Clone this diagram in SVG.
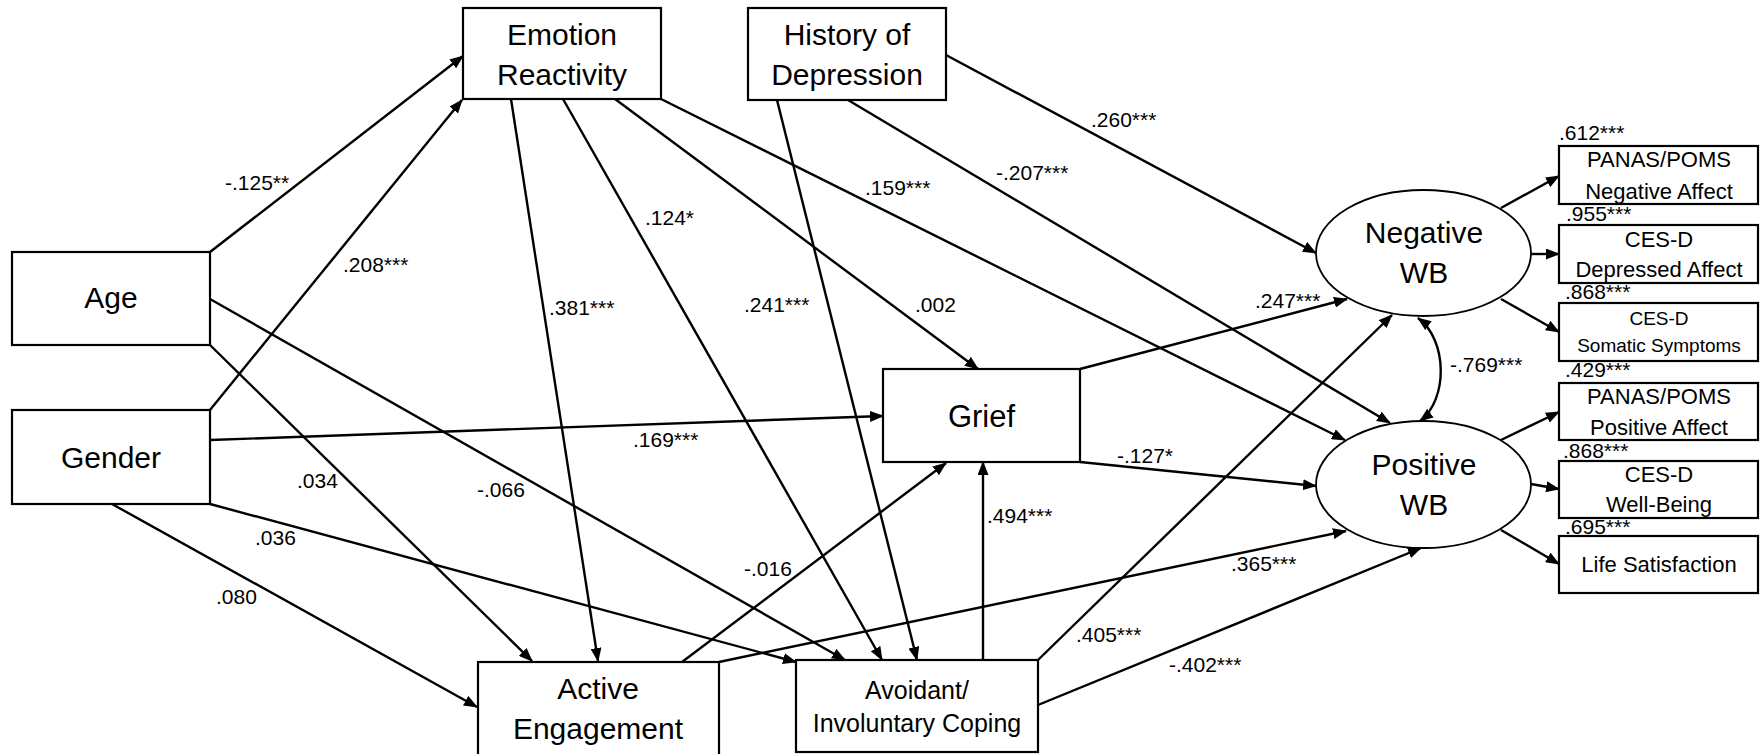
<svg xmlns="http://www.w3.org/2000/svg" width="1760" height="754" viewBox="0 0 1760 754">
<defs>
<style>
.box{fill:#fff;stroke:#000;stroke-width:2.2}
.ell{fill:#fff;stroke:#000;stroke-width:1.8}
.t{font-family:"Liberation Sans",Arial,sans-serif;font-size:30px;fill:#000;text-anchor:middle}
.ti{font-family:"Liberation Sans",Arial,sans-serif;font-size:22px;fill:#000;text-anchor:middle}
.ts{font-family:"Liberation Sans",Arial,sans-serif;font-size:19px;fill:#000;text-anchor:middle}
.lb{font-family:"Liberation Sans",Arial,sans-serif;font-size:21px;fill:#000}
.c{fill:none;stroke:#000;stroke-width:2.4;marker-end:url(#ah)}
</style>
<marker id="ah" viewBox="0 0 14 11" refX="13" refY="5.5" markerWidth="14" markerHeight="11" markerUnits="userSpaceOnUse" orient="auto-start-reverse">
<path d="M0,0 L14,5.5 L0,11 z" fill="#000"/>
</marker>
</defs>
<rect width="1760" height="754" fill="#fff"/>

<g id="connectors">
<line class="c" x1="210" y1="252" x2="463" y2="56"/>
<line class="c" x1="210" y1="410" x2="462" y2="100"/>
<line class="c" x1="210" y1="299" x2="845" y2="660"/>
<line class="c" x1="210" y1="345" x2="532" y2="661"/>
<line class="c" x1="210" y1="440" x2="883" y2="416"/>
<line class="c" x1="210" y1="504" x2="796" y2="662"/>
<line class="c" x1="112" y1="504" x2="477" y2="707"/>
<line class="c" x1="511" y1="99" x2="598" y2="661"/>
<line class="c" x1="563" y1="99" x2="882" y2="660"/>
<line class="c" x1="615" y1="99" x2="978" y2="369"/>
<line class="c" x1="661" y1="99" x2="1345" y2="440"/>
<line class="c" x1="777" y1="100" x2="917" y2="660"/>
<line class="c" x1="848" y1="100" x2="1390" y2="423"/>
<line class="c" x1="946" y1="55" x2="1316" y2="253"/>
<line class="c" x1="1080" y1="369" x2="1347" y2="299"/>
<line class="c" x1="1080" y1="462" x2="1316" y2="486"/>
<line class="c" x1="983" y1="660" x2="983" y2="462"/>
<line class="c" x1="682" y1="662" x2="946" y2="463"/>
<line class="c" x1="719" y1="662" x2="1346" y2="531"/>
<line class="c" x1="1038" y1="660" x2="1392" y2="315"/>
<line class="c" x1="1038" y1="705" x2="1421" y2="548"/>
<line class="c" x1="1501" y1="208" x2="1559" y2="176"/>
<line class="c" x1="1531" y1="254" x2="1559" y2="254"/>
<line class="c" x1="1501" y1="299" x2="1559" y2="332"/>
<line class="c" x1="1501" y1="440" x2="1559" y2="412"/>
<line class="c" x1="1531" y1="484" x2="1559" y2="489"/>
<line class="c" x1="1501" y1="530" x2="1559" y2="564"/>
<path class="c" d="M1418,318 C1448,340 1448,400 1420,421" marker-start="url(#ah)"/>
</g>

<g id="edge-labels">
<text class="lb" x="225" y="190">-.125**</text>
<text class="lb" x="343" y="272">.208***</text>
<text class="lb" x="549" y="315">.381***</text>
<text class="lb" x="645" y="225">.124*</text>
<text class="lb" x="744" y="312">.241***</text>
<text class="lb" x="915" y="312">.002</text>
<text class="lb" x="865" y="195">.159***</text>
<text class="lb" x="996" y="180">-.207***</text>
<text class="lb" x="1091" y="127">.260***</text>
<text class="lb" x="1255" y="308">.247***</text>
<text class="lb" x="1450" y="372">-.769***</text>
<text class="lb" x="633" y="447">.169***</text>
<text class="lb" x="297" y="488">.034</text>
<text class="lb" x="477" y="497">-.066</text>
<text class="lb" x="255" y="545">.036</text>
<text class="lb" x="216" y="604">.080</text>
<text class="lb" x="744" y="576">-.016</text>
<text class="lb" x="987" y="523">.494***</text>
<text class="lb" x="1117" y="463">-.127*</text>
<text class="lb" x="1231" y="571">.365***</text>
<text class="lb" x="1076" y="642">.405***</text>
<text class="lb" x="1169" y="672">-.402***</text>
</g>

<g id="n-age"><rect class="box" x="12" y="252" width="198" height="93"/><text class="t" x="111" y="308">Age</text></g>
<g id="n-gender"><rect class="box" x="12" y="410" width="198" height="94"/><text class="t" x="111" y="468">Gender</text></g>
<g id="n-emotion"><rect class="box" x="463" y="8" width="198" height="91"/><text class="t" x="562" y="45">Emotion</text><text class="t" x="562" y="85">Reactivity</text></g>
<g id="n-history"><rect class="box" x="748" y="8" width="198" height="92"/><text class="t" x="847" y="45">History of</text><text class="t" x="847" y="85">Depression</text></g>
<g id="n-grief"><rect class="box" x="883" y="369" width="197" height="93"/><text class="t" x="981.5" y="427" style="font-size:31px">Grief</text></g>
<g id="n-active"><rect class="box" x="478" y="662" width="241" height="100"/><text class="t" x="598" y="699">Active</text><text class="t" x="598" y="739">Engagement</text></g>
<g id="n-avoidant"><rect class="box" x="796" y="660" width="242" height="92"/><text class="t" x="917" y="699" style="font-size:25px">Avoidant/</text><text class="t" x="917" y="732" style="font-size:25px">Involuntary Coping</text></g>
<g id="n-negwb"><ellipse class="ell" cx="1423.5" cy="253" rx="107.5" ry="63"/><text class="t" x="1424" y="243">Negative</text><text class="t" x="1424" y="283">WB</text></g>
<g id="n-poswb"><ellipse class="ell" cx="1423.5" cy="484.5" rx="107.5" ry="63.5"/><text class="t" x="1424" y="475">Positive</text><text class="t" x="1424" y="515">WB</text></g>

<g id="n-ind1"><rect class="box" x="1559" y="146" width="199" height="58"/><text class="ti" x="1659" y="167">PANAS/POMS</text><text class="ti" x="1659" y="199">Negative Affect</text><text class="lb" x="1559" y="140">.612***</text></g>
<g id="n-ind2"><rect class="box" x="1559" y="225" width="199" height="58"/><text class="ti" x="1659" y="247">CES-D</text><text class="ti" x="1659" y="277">Depressed Affect</text><text class="lb" x="1566" y="221">.955***</text></g>
<g id="n-ind3"><rect class="box" x="1559" y="303" width="199" height="58"/><text class="ts" x="1659" y="325">CES-D</text><text class="ts" x="1659" y="352">Somatic Symptoms</text><text class="lb" x="1565" y="299">.868***</text></g>
<g id="n-ind4"><rect class="box" x="1559" y="383" width="199" height="57"/><text class="ti" x="1659" y="404">PANAS/POMS</text><text class="ti" x="1659" y="435">Positive Affect</text><text class="lb" x="1565" y="377">.429***</text></g>
<g id="n-ind5"><rect class="box" x="1559" y="461" width="199" height="57"/><text class="ti" x="1659" y="482">CES-D</text><text class="ti" x="1659" y="512">Well-Being</text><text class="lb" x="1563" y="458">.868***</text></g>
<g id="n-ind6"><rect class="box" x="1559" y="536" width="199" height="57"/><text class="ti" x="1659" y="572">Life Satisfaction</text><text class="lb" x="1565" y="534">.695***</text></g>
</svg>
